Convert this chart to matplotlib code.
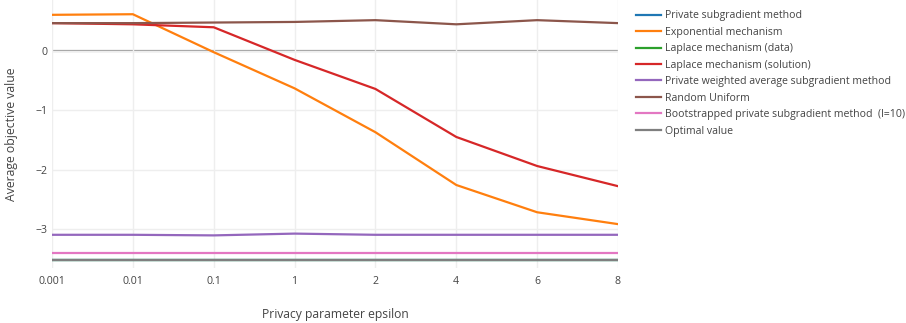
import matplotlib.pyplot as plt

# Datos
epsilons = ["0.001", "0.01", "0.1", "1", "2", "4", "6", "8"]

optimal = [-3.52, -3.52, -3.52, -3.52, -3.52, -3.52, -3.52, -3.52]
private_subgradient = [-3.52, -3.52, -3.52, -3.52, -3.52, -3.52, -3.52, -3.52]
laplace_data = [-3.52, -3.52, -3.52, -3.52, -3.52, -3.52, -3.52, -3.52]
exponential = [0.61, 0.62, -0.02, -0.63, -1.37, -2.26, -2.72, -2.92]
laplace_solution = [0.47, 0.45, 0.40, -0.15, -0.64, -1.45, -1.94, -2.28]
weighted_avg = [-3.10, -3.10, -3.11, -3.08, -3.10, -3.10, -3.10, -3.10]
random_uniform = [0.47, 0.47, 0.48, 0.49, 0.52, 0.45, 0.52, 0.47]
bootstrapped = [-3.41, -3.41, -3.41, -3.41, -3.41, -3.41, -3.41, -3.41]

plt.rcParams['font.family'] = ['Open Sans', 'DejaVu Sans']

fig = plt.figure(figsize=(9.06, 3.23), dpi=100)
ax = fig.add_axes([52 / 906, 55 / 323, 566 / 906, 268 / 323])

x = range(len(epsilons))

# Dibujar las series
series = [
    (private_subgradient, '#1f77b4', 'Private subgradient method'),
    (exponential, '#ff7f0e', 'Exponential mechanism'),
    (laplace_data, '#2ca02c', 'Laplace mechanism (data)'),
    (laplace_solution, '#d62728', 'Laplace mechanism (solution)'),
    (weighted_avg, '#9467bd', 'Private weighted average subgradient method'),
    (random_uniform, '#8c564b', 'Random Uniform'),
    (bootstrapped, '#e377c2', 'Bootstrapped private subgradient method  (l=10)'),
    (optimal, '#7f7f7f', 'Optimal value'),
]
for vals, color, label in series:
    ax.plot(x, vals, color=color, linewidth=1.6, label=label)

# Linea del cero
ax.axhline(0, color='#999999', linewidth=1.6, zorder=0.5)

ax.set_xlim(0, len(epsilons) - 1)
ax.set_ylim(-3.66, 0.86)
ax.set_xticks(list(x))
ax.set_xticklabels(epsilons)
ax.set_yticks([0, -1, -2, -3])
ax.grid(True, color='#eeeeee', linewidth=1)
ax.set_axisbelow(True)
for s in ax.spines.values():
    s.set_visible(False)
ax.tick_params(length=0, labelsize=7.6, colors='#444444')
ax.tick_params(axis='y', pad=3)
ax.tick_params(axis='x', pad=6)

ax.set_xlabel("Privacy parameter epsilon", fontsize=8.7, color='#444444', labelpad=15)
ax.set_ylabel("Average objective value", fontsize=8.8, color='#444444', labelpad=13)

fig.legend(loc='upper left', bbox_to_anchor=(632 / 906, 1 - 6 / 323),
           frameon=False, fontsize=7.6, labelcolor='#444444',
           handlelength=2.3, handletextpad=0.45, labelspacing=0.52,
           borderaxespad=0)

fig.savefig('out.png', dpi=100)
